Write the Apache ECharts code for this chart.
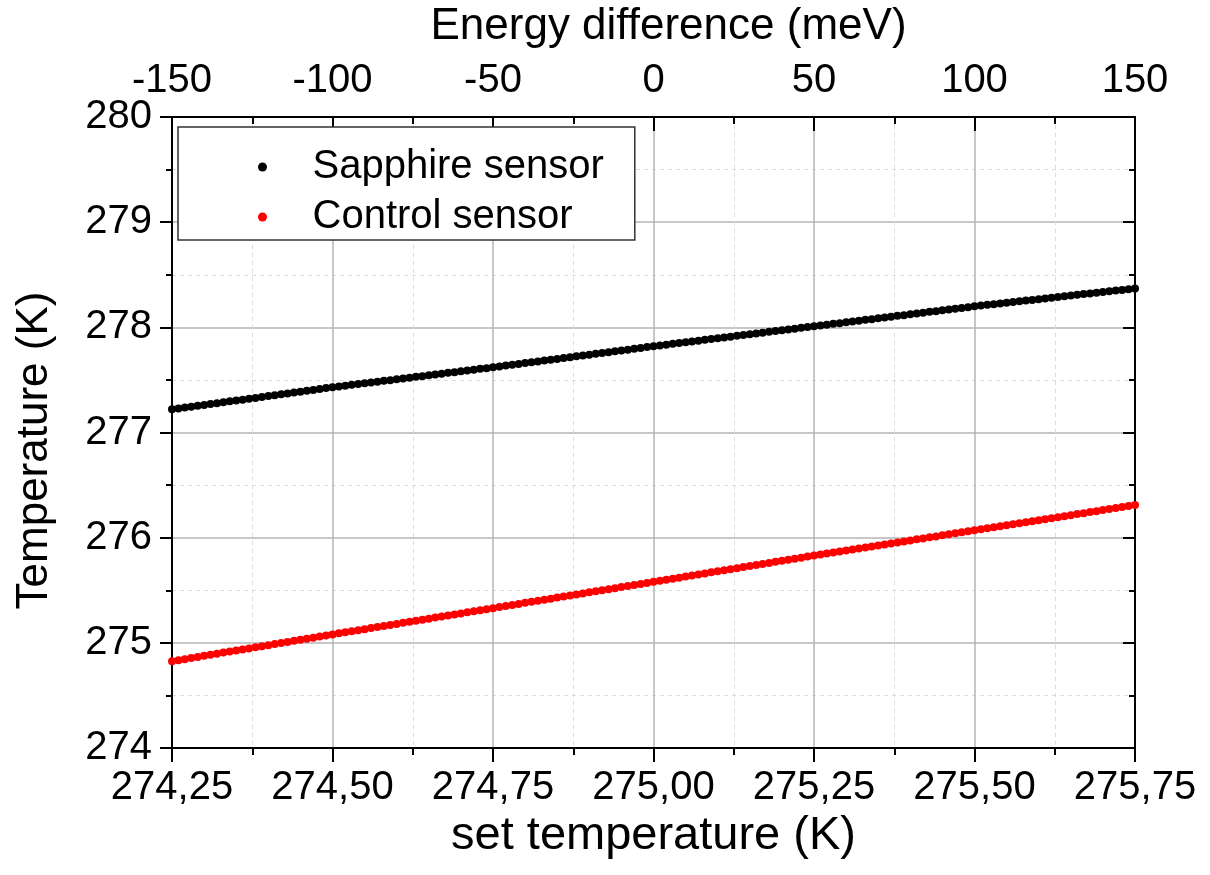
<!DOCTYPE html>
<html>
<head>
<meta charset="utf-8">
<script src="https://cdn.jsdelivr.net/npm/echarts@6/dist/echarts.min.js"></script>
<style>
html,body{margin:0;padding:0;background:#fff;}
#chart{width:1210px;height:875px;}
</style>
</head>
<body>
<div id="chart"></div>
<script>
// set temperature (K)
var setTemperature = [
274.25,274.26,274.27,274.28,274.29,274.30,274.31,274.32,274.33,274.34,
274.35,274.36,274.37,274.38,274.39,274.40,274.41,274.42,274.43,274.44,
274.45,274.46,274.47,274.48,274.49,274.50,274.51,274.52,274.53,274.54,
274.55,274.56,274.57,274.58,274.59,274.60,274.61,274.62,274.63,274.64,
274.65,274.66,274.67,274.68,274.69,274.70,274.71,274.72,274.73,274.74,
274.75,274.76,274.77,274.78,274.79,274.80,274.81,274.82,274.83,274.84,
274.85,274.86,274.87,274.88,274.89,274.90,274.91,274.92,274.93,274.94,
274.95,274.96,274.97,274.98,274.99,275.00,275.01,275.02,275.03,275.04,
275.05,275.06,275.07,275.08,275.09,275.10,275.11,275.12,275.13,275.14,
275.15,275.16,275.17,275.18,275.19,275.20,275.21,275.22,275.23,275.24,
275.25,275.26,275.27,275.28,275.29,275.30,275.31,275.32,275.33,275.34,
275.35,275.36,275.37,275.38,275.39,275.40,275.41,275.42,275.43,275.44,
275.45,275.46,275.47,275.48,275.49,275.50,275.51,275.52,275.53,275.54,
275.55,275.56,275.57,275.58,275.59,275.60,275.61,275.62,275.63,275.64,
275.65,275.66,275.67,275.68,275.69,275.70,275.71,275.72,275.73,275.74,
275.75
];
// Sapphire sensor temperature (K)
var sapphire = [
277.220,277.228,277.237,277.245,277.254,277.262,277.270,277.279,277.287,277.296,
277.304,277.312,277.321,277.329,277.338,277.346,277.354,277.363,277.371,277.380,
277.388,277.396,277.405,277.413,277.422,277.430,277.438,277.445,277.453,277.460,
277.468,277.476,277.483,277.491,277.498,277.506,277.514,277.521,277.529,277.536,
277.544,277.552,277.559,277.567,277.574,277.582,277.590,277.597,277.605,277.612,
277.620,277.628,277.636,277.644,277.652,277.660,277.668,277.676,277.684,277.692,
277.700,277.708,277.716,277.724,277.732,277.740,277.748,277.756,277.764,277.772,
277.780,277.788,277.796,277.804,277.812,277.820,277.828,277.835,277.843,277.850,
277.858,277.866,277.873,277.881,277.888,277.896,277.904,277.911,277.919,277.926,
277.934,277.942,277.949,277.957,277.964,277.972,277.980,277.987,277.995,278.002,
278.010,278.018,278.025,278.033,278.040,278.048,278.056,278.063,278.071,278.078,
278.086,278.094,278.101,278.109,278.116,278.124,278.132,278.139,278.147,278.154,
278.162,278.170,278.177,278.185,278.192,278.200,278.207,278.214,278.220,278.227,
278.234,278.241,278.248,278.254,278.261,278.268,278.275,278.282,278.288,278.295,
278.302,278.309,278.316,278.322,278.329,278.336,278.343,278.350,278.356,278.363,
278.370
];
// Control sensor temperature (K)
var control = [
274.825,274.835,274.845,274.856,274.866,274.876,274.886,274.896,274.907,274.917,
274.927,274.937,274.947,274.958,274.968,274.978,274.988,274.998,275.009,275.019,
275.029,275.039,275.049,275.060,275.070,275.080,275.090,275.100,275.110,275.120,
275.130,275.140,275.150,275.160,275.170,275.180,275.190,275.200,275.210,275.220,
275.230,275.240,275.250,275.260,275.270,275.280,275.290,275.300,275.310,275.320,
275.330,275.340,275.350,275.360,275.370,275.380,275.390,275.400,275.410,275.420,
275.430,275.440,275.450,275.460,275.470,275.480,275.490,275.500,275.510,275.520,
275.530,275.540,275.550,275.560,275.570,275.580,275.590,275.600,275.610,275.620,
275.630,275.640,275.650,275.660,275.670,275.680,275.690,275.700,275.710,275.720,
275.730,275.740,275.750,275.760,275.770,275.780,275.790,275.800,275.810,275.820,
275.830,275.840,275.849,275.859,275.868,275.878,275.888,275.897,275.907,275.916,
275.926,275.936,275.945,275.955,275.964,275.974,275.984,275.993,276.003,276.012,
276.022,276.032,276.041,276.051,276.060,276.070,276.080,276.089,276.099,276.108,
276.118,276.128,276.137,276.147,276.156,276.166,276.176,276.185,276.195,276.204,
276.214,276.224,276.233,276.243,276.252,276.262,276.272,276.281,276.291,276.300,
276.310
];
var seriesNames = ['Sapphire sensor', 'Control sensor'];
var xRange = [274.25, 275.75];
var energyRange = [-150, 150];
var yRange = [274, 280];

function zip(xs, ys){ return xs.map(function(x,i){ return [x, ys[i]]; }); }

var FONT = '"Liberation Sans", Arial, sans-serif';
var chart = echarts.init(document.getElementById('chart'));
var axisLineStyle = {color:'#000', width:2};
var gridMajor = {show:true, lineStyle:{color:'#b4b4b4', width:1.5}};
var gridMinor = {show:true, lineStyle:{color:'#dcdcdc', width:1, type:[4,4]}};

chart.setOption({
  backgroundColor:'#fff',
  animation:false,
  textStyle:{fontFamily:FONT},
  grid:{left:172, right:75, top:117, bottom:127, containLabel:false},
  legend:{
    orient:'vertical', left:178, top:127,
    padding:[20,31,3,80], itemGap:10,
    borderColor:'#333', borderWidth:1.5, backgroundColor:'#fff',
    icon:'circle', itemWidth:90, itemHeight:9,
    itemStyle:{opacity:1},
    textStyle:{fontSize:40, color:'#000', fontFamily:FONT, lineHeight:40},
    data:seriesNames
  },
  xAxis:[{
    type:'value', position:'bottom', min:xRange[0], max:xRange[1], interval:0.25,
    axisLine:{show:true, onZero:false, lineStyle:axisLineStyle},
    axisTick:{show:true, inside:false, length:14, lineStyle:{color:'#000', width:2}},
    minorTick:{show:true, splitNumber:2, length:7, lineStyle:{color:'#000', width:2}},
    splitLine:gridMajor, minorSplitLine:gridMinor,
    axisLabel:{fontSize:40, color:'#000', margin:20, fontFamily:FONT,
      formatter:function(v){ return v.toFixed(2).replace('.', ','); }},
    name:'set temperature (K)', nameLocation:'middle', nameGap:64,
    nameTextStyle:{fontSize:47, color:'#000', fontFamily:FONT}
  },{
    type:'value', position:'top', min:energyRange[0], max:energyRange[1], interval:50,
    axisLine:{show:true, onZero:false, lineStyle:axisLineStyle},
    axisTick:{show:true, inside:true, length:14, lineStyle:{color:'#000', width:2}},
    minorTick:{show:true, splitNumber:2, length:7, lineStyle:{color:'#000', width:2}},
    splitLine:{show:false},
    axisLabel:{fontSize:40, color:'#000', margin:16, fontFamily:FONT},
    name:'Energy difference (meV)', nameLocation:'middle', nameGap:68,
    nameTextStyle:{fontSize:44, color:'#000', fontFamily:FONT, padding:[0,0,0,30]}
  }],
  yAxis:[{
    type:'value', position:'left', min:yRange[0], max:yRange[1], interval:1,
    axisLine:{show:true, onZero:false, lineStyle:axisLineStyle},
    axisTick:{show:true, inside:false, length:12, lineStyle:{color:'#000', width:2}},
    minorTick:{show:true, splitNumber:2, length:6, lineStyle:{color:'#000', width:2}},
    splitLine:gridMajor, minorSplitLine:gridMinor,
    axisLabel:{fontSize:40, color:'#000', margin:20, fontFamily:FONT},
    name:'Temperature (K)', nameLocation:'middle', nameGap:115, nameRotate:90,
    nameTextStyle:{fontSize:44, color:'#000', fontFamily:FONT, padding:[0,36,0,0]}
  },{
    type:'value', position:'right', min:yRange[0], max:yRange[1], interval:1,
    axisLine:{show:true, onZero:false, lineStyle:axisLineStyle},
    axisTick:{show:true, inside:true, length:12, lineStyle:{color:'#000', width:2}},
    minorTick:{show:true, splitNumber:2, length:6, lineStyle:{color:'#000', width:2}},
    splitLine:{show:false},
    axisLabel:{show:false}
  }],
  series:[{
    name:seriesNames[0], type:'scatter', xAxisIndex:0, yAxisIndex:0,
    symbol:'circle', symbolSize:8, itemStyle:{color:'#000', opacity:1},
    data:zip(setTemperature, sapphire), z:3
  },{
    name:seriesNames[1], type:'scatter', xAxisIndex:0, yAxisIndex:0,
    symbol:'circle', symbolSize:8, itemStyle:{color:'#ff0000', opacity:1},
    data:zip(setTemperature, control), z:3
  }]
});
</script>
</body>
</html>
